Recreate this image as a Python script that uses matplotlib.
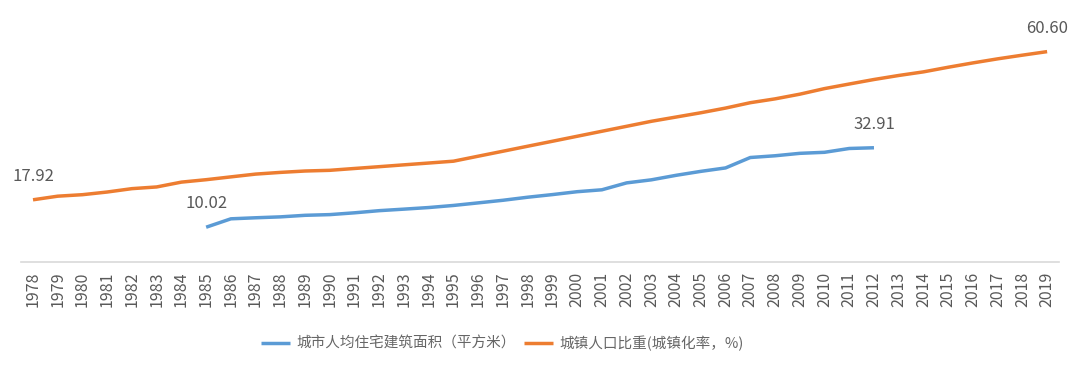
import matplotlib
matplotlib.use("Agg")
import matplotlib.pyplot as plt

plt.rcParams['font.family'] = ['Noto Sans CJK SC', 'DejaVu Sans']

years = list(range(1978, 2020))
urban_rate = [17.92, 18.96, 19.39, 20.16, 21.13, 21.62, 23.01, 23.71, 24.52, 25.32,
              25.81, 26.21, 26.41, 26.94, 27.46, 27.99, 28.51, 29.04, 30.48, 31.91,
              33.35, 34.78, 36.22, 37.66, 39.09, 40.53, 41.76, 42.99, 44.34, 45.89,
              46.99, 48.34, 49.95, 51.27, 52.57, 53.73, 54.77, 56.10, 57.35, 58.52,
              59.58, 60.60]
area_years = list(range(1985, 2013))
housing_area = [10.02, 12.44, 12.74, 13.00, 13.45, 13.65, 14.17, 14.79, 15.23, 15.69,
                16.29, 17.03, 17.78, 18.66, 19.42, 20.25, 20.80, 22.79, 23.67, 24.97,
                26.11, 27.10, 30.10, 30.60, 31.30, 31.60, 32.70, 32.91]

label_area = "城市人均住宅建筑面积（平方米）"
label_rate = "城镇人口比重(城镇化率，%)"
blue = "#5B9BD5"
orange = "#ED7D31"
gray = "#595959"

fig = plt.figure(figsize=(10.8, 3.71), dpi=100)
ax = fig.add_axes([0.0191, 0.2938, 0.9619, 0.655])

xpos = {y: i for i, y in enumerate(years)}
ax.plot([xpos[y] for y in area_years], housing_area, color=blue, lw=2.5,
        label=label_area, solid_capstyle='butt')
ax.plot([xpos[y] for y in years], urban_rate, color=orange, lw=2.5,
        label=label_rate, solid_capstyle='butt')

# end-point labels
for xv, yv in [(xpos[1978], urban_rate[0]), (xpos[2019], urban_rate[-1]),
               (xpos[1985], housing_area[0]), (xpos[2012], housing_area[-1])]:
    ax.annotate(f"{yv:.2f}", (xv, yv), xytext=(0, 17), textcoords="offset points",
                ha="center", va="center", fontsize=12, color=gray)

ax.set_xlim(-0.5, len(years) - 0.5)
ax.set_ylim(0, 70)
ax.set_xticks(range(len(years)))
ax.set_xticklabels([str(y) for y in years], rotation=90, fontsize=11.5, color=gray)
ax.tick_params(axis="x", length=0, pad=7)
ax.set_yticks([])
for s in ["top", "right", "left"]:
    ax.spines[s].set_visible(False)
ax.spines["bottom"].set_color("#D9D9D9")
ax.spines["bottom"].set_linewidth(1.2)

fig.legend(loc="center", bbox_to_anchor=(0.465, 0.075), ncol=2, frameon=False,
           fontsize=10.5, labelcolor="#666666", handlelength=2.0, handletextpad=0.4,
           columnspacing=0.6)

fig.savefig("out.png", dpi=100)
